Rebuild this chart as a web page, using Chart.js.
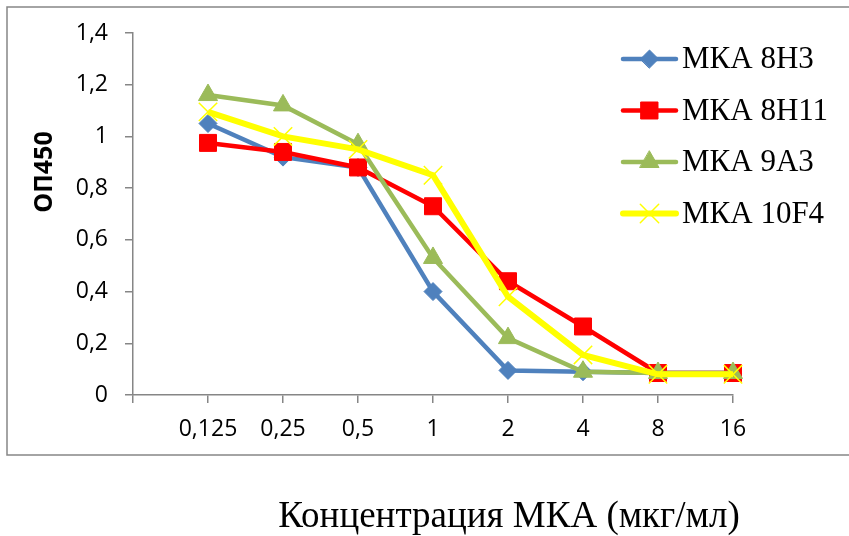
<!DOCTYPE html>
<html>
<head>
<meta charset="utf-8">
<script src="https://cdn.jsdelivr.net/npm/chart.js@4"></script>
<style>
  html, body { margin: 0; padding: 0; background: #fff; }
  #wrap { width: 849px; height: 536px; position: relative; }
</style>
</head>
<body>
<div id="wrap"><canvas id="lineChart" width="849" height="536"></canvas></div>
<script>
// концентрации (первая позиция пустая, как на оси Excel)
const concLabels = ['', '0,125', '0,25', '0,5', '1', '2', '4', '8', '16'];
const seriesNames = ['МКА 8H3', 'МКА 8H11', 'МКА 9A3', 'МКА 10F4'];

const mka8H3  = [null, 1.05, 0.92, 0.88, 0.40, 0.095, 0.09, 0.085, 0.085];
const mka8H11 = [null, 0.975, 0.94, 0.88, 0.73, 0.44, 0.265, 0.085, 0.085];
const mka9A3  = [null, 1.16, 1.12, 0.97, 0.53, 0.22, 0.09, 0.085, 0.085];
const mka10F4 = [null, 1.095, 1.0, 0.95, 0.85, 0.38, 0.155, 0.08, 0.08];

const yTicks = [0, 0.2, 0.4, 0.6, 0.8, 1, 1.2, 1.4];

const colors = ['#4F81BD', '#FF0000', '#9BBB59', '#FFFF00'];
const markers = ['rectRot', 'rect', 'triangle', 'crossRot'];
const markerRadius = [9, 12, 11, 13];
const lineWidths = [4.5, 4.5, 4.5, 6];

const axisGrey = '#868686';

// рамка вокруг диаграммы + подписи осей + легенда
const decorPlugin = {
  id: 'decor',
  beforeDraw(chart) {
    const ctx = chart.ctx;
    ctx.save();
    ctx.fillStyle = '#fff';
    ctx.fillRect(0, 0, chart.width, chart.height);
    ctx.strokeStyle = axisGrey;
    ctx.lineWidth = 1.5;
    ctx.strokeRect(7, 7, 860, 448);
    ctx.restore();
  },
  afterDraw(chart) {
    const ctx = chart.ctx;
    ctx.save();
    // заголовок оси Y
    ctx.translate(45, 172);
    ctx.rotate(-Math.PI / 2);
    ctx.fillStyle = '#000';
    ctx.font = 'bold 25px "Open Sans"';
    ctx.textAlign = 'center';
    ctx.textBaseline = 'middle';
    ctx.fillText('ОП450', 0, 0);
    ctx.restore();

    // заголовок оси X
    ctx.save();
    ctx.fillStyle = '#000';
    ctx.font = '37px "Liberation Serif"';
    ctx.textAlign = 'center';
    ctx.textBaseline = 'middle';
    ctx.fillText('Концентрация МКА (мкг/мл)', 509, 517);
    ctx.restore();

    // легенда
    ctx.save();
    seriesNames.forEach((name, i) => {
      const y = 59 + i * 51.5;
      ctx.strokeStyle = colors[i];
      ctx.fillStyle = colors[i];
      ctx.lineWidth = lineWidths[i];
      ctx.lineCap = 'round';
      ctx.beginPath();
      ctx.moveTo(623, y);
      ctx.lineTo(676, y);
      ctx.stroke();
      ctx.lineWidth = i === 3 ? 1.5 : 1;
      Chart.helpers.drawPoint(ctx, {
        pointStyle: markers[i],
        radius: markerRadius[i],
        borderWidth: i === 3 ? 1.5 : 1
      }, 649.5, y);
      ctx.fillStyle = '#000';
      ctx.font = '31px "Liberation Serif"';
      ctx.textAlign = 'left';
      ctx.textBaseline = 'middle';
      ctx.fillText(name, 682, y + 1);
    });
    ctx.restore();
  }
};

const allSeries = [mka8H3, mka8H11, mka9A3, mka10F4];

const ctx = document.getElementById('lineChart').getContext('2d');
const chart = new Chart(ctx, {
  type: 'line',
  data: {
    labels: concLabels,
    datasets: allSeries.map((vals, i) => ({
      label: seriesNames[i],
      data: vals,
      borderColor: colors[i],
      backgroundColor: colors[i],
      borderWidth: lineWidths[i],
      pointStyle: markers[i],
      pointRadius: markerRadius[i],
      pointBorderWidth: i === 3 ? 1.5 : 1,
      pointBorderColor: colors[i],
      pointBackgroundColor: colors[i],
      tension: 0,
      order: 4 - i
    }))
  },
  options: {
    responsive: false,
    animation: false,
    layout: { padding: { left: 0, top: 33, right: 116, bottom: 81 } },
    plugins: {
      legend: { display: false },
      tooltip: { enabled: false }
    },
    scales: {
      x: {
        offset: false,
        grid: {
          display: true,
          drawOnChartArea: false,
          drawTicks: true,
          tickLength: 8,
          color: axisGrey,
          lineWidth: 1.5
        },
        border: { display: true, color: axisGrey, width: 1.5 },
        ticks: {
          color: '#000',
          font: { family: '"Open Sans"', size: 23 },
          padding: 13,
          maxRotation: 0,
          autoSkip: false
        },
        afterFit(scale) { scale.height = 60; }
      },
      y: {
        min: 0,
        max: 1.4,
        afterBuildTicks(scale) {
          scale.ticks = yTicks.map(v => ({ value: v }));
        },
        grid: {
          display: true,
          drawOnChartArea: false,
          drawTicks: true,
          tickLength: 8,
          color: axisGrey,
          lineWidth: 1.5
        },
        border: { display: true, color: axisGrey, width: 1.5 },
        ticks: {
          color: '#000',
          font: { family: '"Open Sans"', size: 23 },
          padding: 17,
          callback: v => String(v).replace('.', ',')
        },
        afterFit(scale) { scale.width = 133; }
      }
    }
  },
  plugins: [decorPlugin]
});
</script>
</body>
</html>
